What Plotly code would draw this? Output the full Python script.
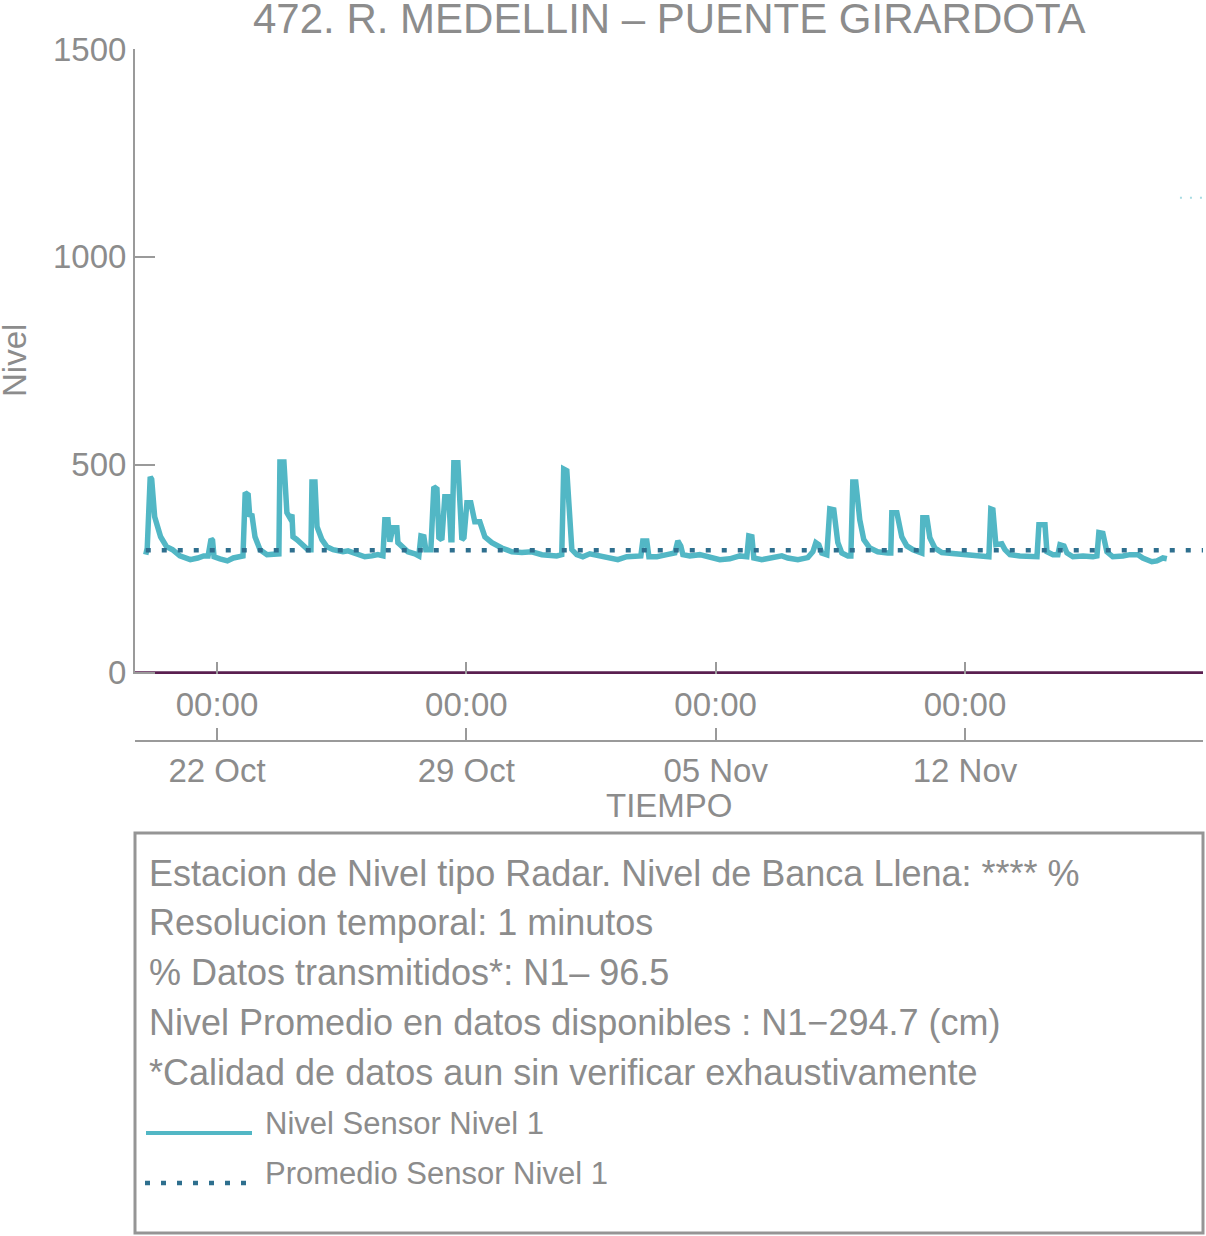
import pandas as pd
import plotly.graph_objects as go

# ---------------- data ----------------
title_text = "472. R. MEDELLIN \u2013 PUENTE GIRARDOTA"
series_start = "2023-10-20 00:00"
hours_since_start = [
    0, 1, 3, 4, 6, 10, 14, 18, 23, 30, 35, 39, 42, 44, 45, 46, 50, 55, 59, 63,
    65.5, 67, 69, 70, 71.6, 73.6, 77, 81.7, 88.4, 89.7, 90.4, 93.1, 95.1, 97.2, 98.5, 99.2, 101.9, 105.9, 109.3, 111.3,
    112, 114, 115.4, 118.7, 122.1, 126.2, 132.9, 136.3,
    140.9, 147.6, 152.4, 156.4, 159.8, 161.1, 163.2, 164.5, 166.5, 169.2,
    169.9, 173.3, 176.6, 181.3, 184, 185.4, 187.4, 188.7, 192.1, 194.1,
    196.2, 197.5, 199.5, 201.5, 204.2, 205.6, 206.3, 207.6, 210.3, 213,
    214.4, 216.4, 219, 221.7, 225.1, 228.5, 233.2, 239.9, 246.7, 253.4,
    260.1, 266.9, 273.6,
    276.9, 280.3, 281.6, 283.7, 285.7, 287.1, 290.4, 294.5, 299.2, 305.9,
    312.7, 318.1, 324.1, 330.9, 333.6, 334.9, 337.6, 339, 344.4, 351.1,
    356.5, 358.5, 360.5, 361.9, 366.6, 373.3, 380.1, 386.8, 393.5, 400.3,
    405, 406.3, 408.4, 409.7,
    415.1, 421.9, 428.6, 432.6, 439.4, 446.1, 449.5, 451.5, 453.5, 455.5,
    458.9, 460.9, 463.6, 466.3, 469, 473.1, 475.1, 476.4, 478.4, 481.1,
    483.8, 487.9, 493.2, 500, 502, 502.7, 506.1, 509.4, 512.8, 516.9,
    521.6, 522.9, 523.6, 526.3, 528.3, 531.7, 536.4, 545.2, 551.9,
    555.3, 562, 568.1, 569.4, 570.8, 572.8, 576.8, 578.9, 582.3, 589,
    595.7, 600.5, 601.8, 605.9, 607.2, 611.3, 614.6, 616, 618.7, 620.7,
    624.7, 631.5, 638.2, 640.9, 642.2, 644.9, 647.6, 651.6, 658.4, 663.1,
    668.5, 671.8, 677.9, 681.3, 685.3, 688,
]
nivel_cm = [
    284, 300, 471, 465, 375, 327, 303, 296, 281, 272, 276, 281, 281, 322, 318, 279, 274, 269, 276, 279,
    281, 433, 428, 380, 378, 327, 296, 284, 284, 286, 507, 507, 385, 372, 380, 327, 320, 308, 296, 296,
    459, 459, 351, 320, 303, 296, 291, 293,
    288, 279, 281, 284, 281, 368, 368, 315, 349, 349,
    313, 300, 291, 286, 281, 329, 327, 296, 296, 447,
    442, 325, 320, 423, 423, 320, 320, 505, 505, 320,
    325, 409, 409, 363, 363, 327, 313, 300, 291, 289,
    291, 284, 281,
    281, 284, 490, 486, 337, 296, 284, 279, 286, 281,
    276, 272, 279, 281, 281, 317, 317, 279, 279, 284,
    288, 317, 305, 284, 281, 284, 279, 272, 274, 281,
    279, 329, 327, 276,
    272, 277, 281, 276, 272, 277, 291, 313, 308, 288,
    284, 394, 392, 313, 288, 281, 281, 459, 459, 368,
    320, 300, 291, 288, 288, 385, 385, 327, 305, 296,
    288, 288, 373, 373, 325, 300, 289, 286, 284,
    281, 279, 279, 394, 392, 308, 310, 296, 284, 281,
    279, 279, 356, 356, 291, 284, 284, 308, 305, 288,
    279, 281, 279, 281, 337, 335, 291, 279, 281, 284,
    284, 276, 267, 269, 276, 274,
]
promedio_cm = 294.7
x_range = ["2023-10-19 16:45", "2023-11-18 16:22"]
date_ticks = ["2023-10-22", "2023-10-29", "2023-11-05", "2023-11-12"]
y_ticks = [0, 500, 1000, 1500]
y_range = [-3, 1500]
baseline_value = 0
upper_mark_start = "2023-11-18 00:50"
upper_mark_value = 1142
legend_names = ["Nivel Sensor Nivel 1", "Promedio Sensor Nivel 1"]
info_lines = [
    "Estacion de Nivel tipo Radar. Nivel de Banca Llena: **** %",
    "Resolucion temporal: 1 minutos",
    "% Datos transmitidos*: N1\u2013 96.5",
    "Nivel Promedio en datos disponibles : N1\u2212294.7 (cm)",
    "*Calidad de datos aun sin verificar exhaustivamente",
]
x_title = "TIEMPO"
y_title = "Nivel"

assert len(hours_since_start) == len(nivel_cm)
times = pd.Timestamp(series_start) + pd.to_timedelta(hours_since_start, unit="h")

# ---------------- style ----------------
W, H = 1206, 1236
L, R, T = 135, 3, 49
paper_bottom = 741
B = H - paper_bottom
GRAY = "#8C8C8C"
AXIS = "#9A9A9A"
LINE_C = "#52B7C5"
AVG_C = "#2E6F8E"
PURPLE = "#5A1F50"
FONT = "Liberation Sans, Arial, sans-serif"
DOTS = "5px,11px"

paper_h = paper_bottom - T
paper_w = W - L - R


def py(pix):
    return (paper_bottom - pix) / paper_h


def px(pix):
    return (pix - L) / paper_w


fig = go.Figure()
fig.add_trace(go.Scatter(x=times, y=nivel_cm, mode="lines", name=legend_names[0],
                         line=dict(color=LINE_C, width=5.5), showlegend=False))
fig.add_trace(go.Scatter(x=[times[0], x_range[1]], y=[promedio_cm, promedio_cm], mode="lines",
                         name=legend_names[1], line=dict(color=AVG_C, width=4.5, dash=DOTS),
                         showlegend=False))
fig.add_trace(go.Scatter(x=x_range, y=[baseline_value, baseline_value], mode="lines",
                         line=dict(color=PURPLE, width=3), showlegend=False, xaxis="x2", yaxis="y"))
fig.add_trace(go.Scatter(x=[upper_mark_start, x_range[1]], y=[upper_mark_value, upper_mark_value],
                         mode="lines", line=dict(color="#A8DCE3", width=2, dash="2px,8px"),
                         showlegend=False))

axfont = dict(family=FONT, size=33, color=GRAY)

fig.update_layout(
    width=W, height=H,
    margin=dict(l=L, r=R, t=T, b=B, pad=0),
    paper_bgcolor="white", plot_bgcolor="white",
    font=dict(family=FONT, color=GRAY),
    showlegend=False,
    xaxis=dict(type="date", range=x_range, tickvals=date_ticks, tickformat="%H:%M",
               ticks="inside", ticklen=12, tickwidth=1.5, tickcolor=AXIS, ticklabelstandoff=8,
               showgrid=False, zeroline=False, showline=False, tickfont=axfont, anchor="y"),
    xaxis2=dict(type="date", range=x_range, tickvals=date_ticks, tickformat="%d %b",
                ticks="inside", ticklen=12, tickwidth=1.5, tickcolor=AXIS,
                showgrid=False, zeroline=False, showline=True, linecolor=AXIS, linewidth=2,
                tickfont=axfont, overlaying="x", anchor="free", position=0, side="bottom",
                matches="x"),
    yaxis=dict(range=y_range, domain=[py(674), 1], tickvals=y_ticks,
               ticks="inside", ticklen=20, tickwidth=2, tickcolor=AXIS,
               showline=True, linecolor=AXIS, linewidth=2,
               showgrid=False, zeroline=False, tickfont=axfont),
)

annotations = [
    dict(text=title_text, x=0.5, y=py(19), xref="paper", yref="paper", showarrow=False,
         xanchor="center", yanchor="middle", font=dict(family=FONT, size=42, color=GRAY)),
    dict(text=y_title, x=px(14), y=py(361), xref="paper", yref="paper", showarrow=False,
         textangle=-90, xanchor="center", yanchor="middle", font=axfont),
    dict(text=x_title, x=px(669), y=py(806), xref="paper", yref="paper", showarrow=False,
         xanchor="center", yanchor="middle", font=axfont),
]
for i, line in enumerate(info_lines):
    annotations.append(dict(text=line, x=px(147), y=py(873 + 49.75 * i), xref="paper", yref="paper",
                            showarrow=False, xanchor="left", yanchor="middle",
                            font=dict(family=FONT, size=36, color=GRAY)))
for i, name in enumerate(legend_names):
    annotations.append(dict(text=name, x=px(263), y=py(1123 + 50 * i), xref="paper", yref="paper",
                            showarrow=False, xanchor="left", yanchor="middle",
                            font=dict(family=FONT, size=31, color=GRAY)))

shapes = [
    dict(type="rect", xref="paper", yref="paper", x0=px(135), x1=px(1203), y0=py(1233), y1=py(833),
         line=dict(color="#959595", width=3)),
    dict(type="line", xref="paper", yref="paper", x0=px(146), x1=px(252), y0=py(1133), y1=py(1133),
         line=dict(color=LINE_C, width=4)),
    dict(type="line", xref="paper", yref="paper", x0=px(145), x1=px(250), y0=py(1183), y1=py(1183),
         line=dict(color=AVG_C, width=4.5, dash=DOTS)),
]
fig.update_layout(annotations=annotations, shapes=shapes)

# remove the default 8px page margin so the figure sits at the window's top-left corner
fig.write_html("out.html", config={"displayModeBar": False},
               post_script="document.body.style.margin='0';document.body.style.overflow='hidden';")
